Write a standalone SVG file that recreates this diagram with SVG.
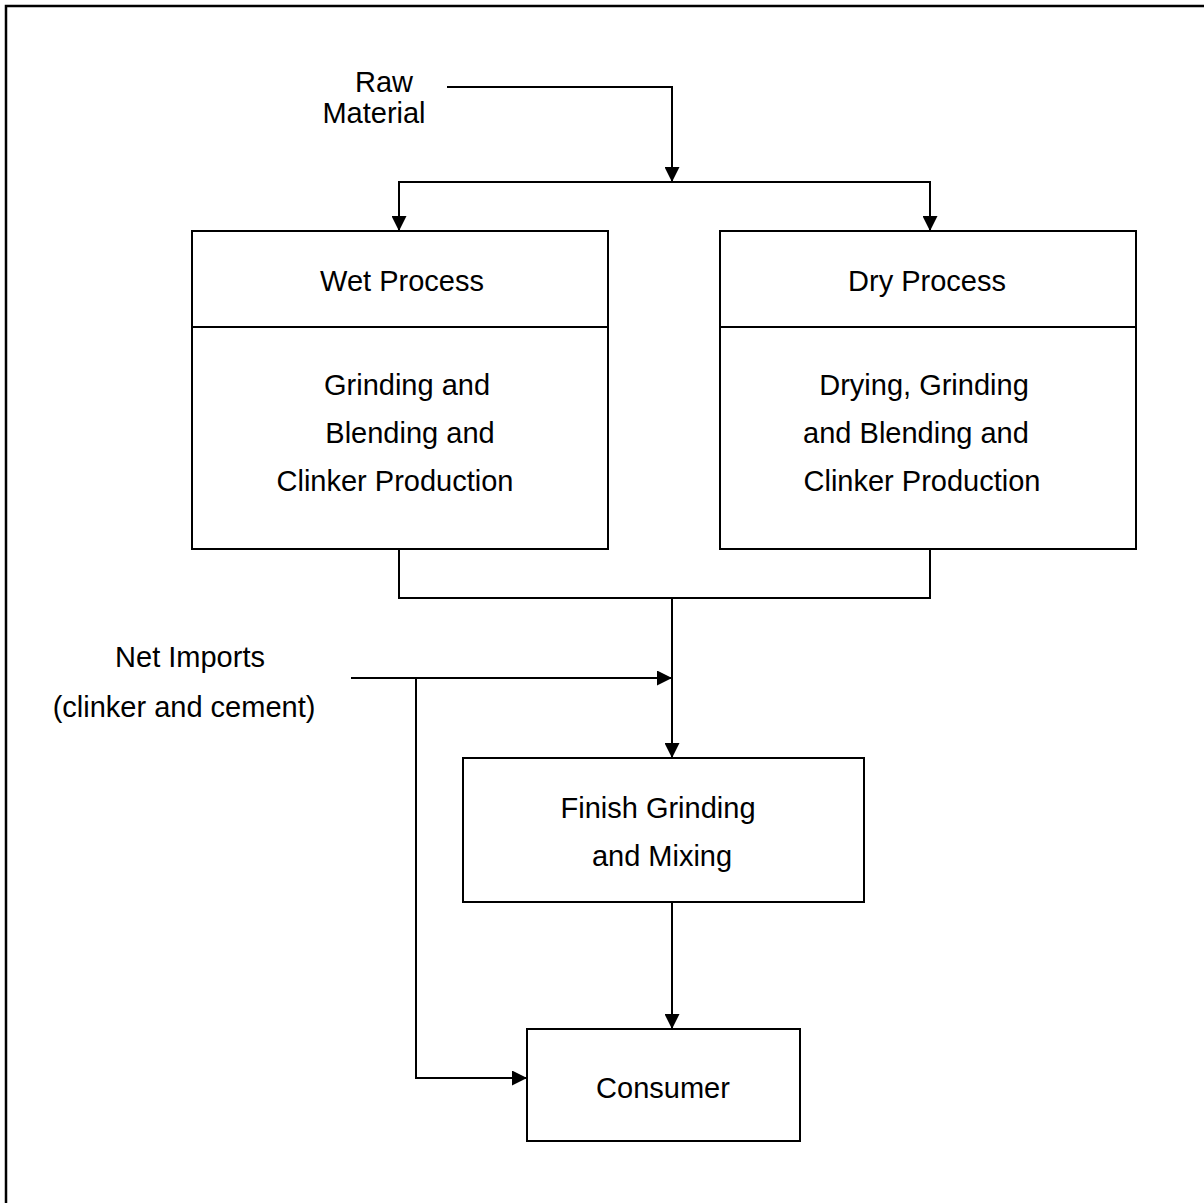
<svg xmlns="http://www.w3.org/2000/svg" width="1204" height="1203" viewBox="0 0 1204 1203">
<defs>
<marker id="arr" viewBox="0 0 15 15" refX="15" refY="7.5" markerWidth="15" markerHeight="15" markerUnits="userSpaceOnUse" orient="auto">
<path d="M0,0 L15,7.5 L0,15 Z" fill="#000"/>
</marker>
<style>
.box{fill:#fff;stroke:#000;stroke-width:2}
.ln{fill:none;stroke:#000;stroke-width:2}
.t{font-family:"Liberation Sans",Arial,sans-serif;font-size:29px;fill:#000;text-anchor:middle}
</style>
</defs>
<rect x="0" y="0" width="1204" height="1203" fill="#fff"/>
<rect x="6" y="6" width="1220" height="1220" fill="none" stroke="#000" stroke-width="2.5"/>
<g id="raw-material">
<text class="t" x="384" y="92">Raw</text>
<text class="t" x="374" y="123">Material</text>
</g>
<g id="wet-process">
<rect class="box" x="192" y="231" width="416" height="318"/>
<line class="ln" x1="192" y1="327" x2="608" y2="327"/>
<text class="t" x="402" y="291">Wet Process</text>
<text class="t" x="407" y="395">Grinding and</text>
<text class="t" x="410" y="443">Blending and</text>
<text class="t" x="395" y="491">Clinker Production</text>
</g>
<g id="dry-process">
<rect class="box" x="720" y="231" width="416" height="318"/>
<line class="ln" x1="720" y1="327" x2="1136" y2="327"/>
<text class="t" x="927" y="291">Dry Process</text>
<text class="t" x="924" y="395">Drying, Grinding</text>
<text class="t" x="916" y="443">and Blending and</text>
<text class="t" x="922" y="491">Clinker Production</text>
</g>
<g id="net-imports">
<text class="t" x="190" y="667">Net Imports</text>
<text class="t" x="184" y="717">(clinker and cement)</text>
</g>
<g id="finish-grinding">
<rect class="box" x="463" y="758" width="401" height="144"/>
<text class="t" x="658" y="818">Finish Grinding</text>
<text class="t" x="662" y="866">and Mixing</text>
</g>
<g id="consumer">
<rect class="box" x="527" y="1029" width="273" height="112"/>
<text class="t" x="663" y="1098">Consumer</text>
</g>
<g id="connectors">
<polyline class="ln" points="447,87 672,87 672,182" marker-end="url(#arr)"/>
<line class="ln" x1="399" y1="182" x2="930" y2="182"/>
<line class="ln" x1="399" y1="181" x2="399" y2="231" marker-end="url(#arr)"/>
<line class="ln" x1="930" y1="181" x2="930" y2="231" marker-end="url(#arr)"/>
<polyline class="ln" points="399,549 399,598 930,598 930,549"/>
<line class="ln" x1="672" y1="598" x2="672" y2="758" marker-end="url(#arr)"/>
<line class="ln" x1="351" y1="678" x2="672" y2="678" marker-end="url(#arr)"/>
<polyline class="ln" points="416,678 416,1078 527,1078" marker-end="url(#arr)"/>
<line class="ln" x1="672" y1="902" x2="672" y2="1029" marker-end="url(#arr)"/>
</g>
</svg>
